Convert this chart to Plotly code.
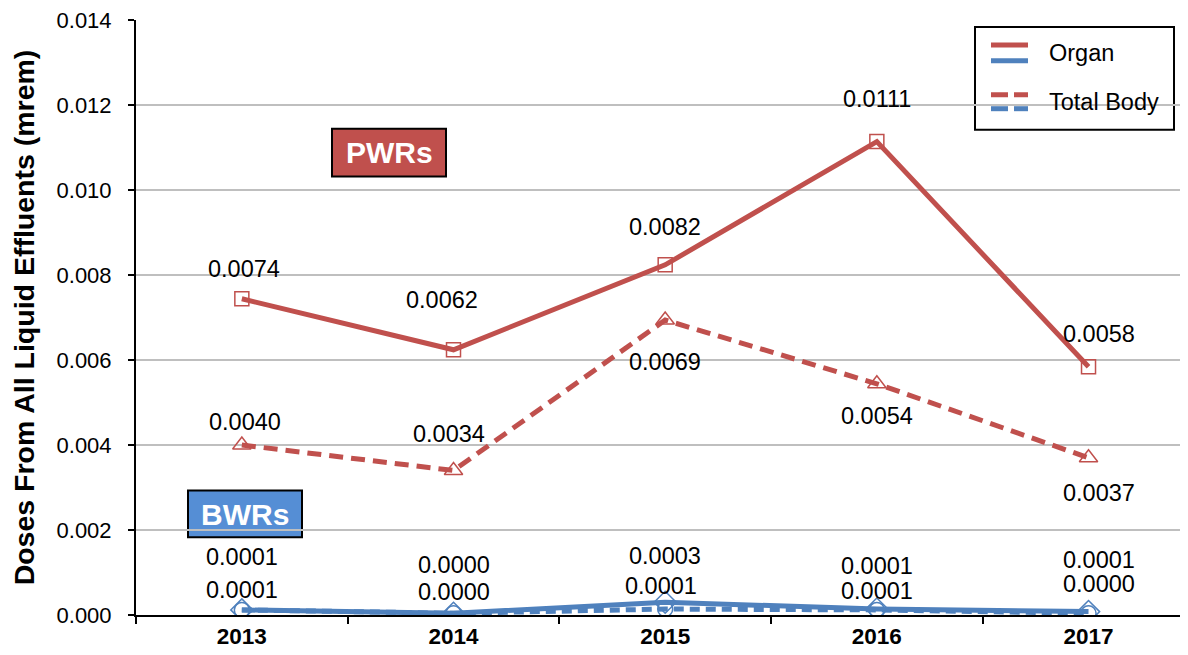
import plotly.graph_objects as go

years = ["2013", "2014", "2015", "2016", "2017"]
pwr_organ = [0.00744, 0.00624, 0.00824, 0.01114, 0.00584]
pwr_total = [0.0040, 0.0034, 0.00694, 0.00544, 0.0037]
bwr_organ = [0.00012, 0.00004, 0.00030, 0.00014, 0.00008]
bwr_total = [0.00012, 0.00004, 0.00014, 0.00012, 0.00004]
y_ticks = [0.000, 0.002, 0.004, 0.006, 0.008, 0.010, 0.012, 0.014]

# label offsets (pixels) for the data labels
pwr_organ_shift = [(2, 30), (-12, 50), (0, 38), (0, 43), (10, 33)]
pwr_total_shift = [(3, 23), (-5, 37), (0, -42), (0, -32), (10, -35)]
bwr_organ_shift = [(0, 53), (0, 48), (0, 46), (0, 43), (10, 52)]
bwr_total_shift = [(0, 20), (0, 21), (-4, 23), (0, 19), (10, 29)]

RED = "#C0504D"
BLUE = "#4F81BD"
BLUE_BOX = "#558ED5"
FONT = "Liberation Sans, Arial, sans-serif"

# page body has an 8px margin: figure is placed at (8, 8) in the window
OFF = 8
W, H = 1188 - OFF, 655 - OFF
L, R, T, B = 136 - OFF, 0, 18 - OFF, 40
PW, PH = W - L - R, H - T - B


def px(x):  # window pixel -> paper
    return (x - OFF - L) / PW


def py(y):  # window pixel -> paper
    return (H - B - (y - OFF)) / PH


fig = go.Figure()

fig.add_trace(go.Scatter(x=years, y=pwr_organ, mode="lines+markers",
                         line=dict(color=RED, width=5),
                         marker=dict(symbol="square-open", size=14, color=RED, line=dict(width=1.5, color=RED)),
                         showlegend=False))
fig.add_trace(go.Scatter(x=years, y=pwr_total, mode="lines+markers",
                         line=dict(color=RED, width=5, dash="14px,8px"),
                         marker=dict(symbol="triangle-up-open", size=16, color=RED, line=dict(width=1.5, color=RED)),
                         showlegend=False))
fig.add_trace(go.Scatter(x=years, y=bwr_total, mode="lines+markers",
                         line=dict(color=BLUE, width=5, dash="10px,6px"),
                         marker=dict(symbol="circle-open", size=15, color=BLUE, line=dict(width=1.5, color=BLUE)),
                         showlegend=False))
fig.add_trace(go.Scatter(x=years, y=bwr_organ, mode="lines+markers",
                         line=dict(color=BLUE, width=5),
                         marker=dict(symbol="diamond-open", size=17, color=BLUE, line=dict(width=1.5, color=BLUE)),
                         showlegend=False))

annotations = []
for vals, shifts in [(pwr_organ, pwr_organ_shift), (pwr_total, pwr_total_shift),
                     (bwr_organ, bwr_organ_shift), (bwr_total, bwr_total_shift)]:
    for i, (v, (dx, dy)) in enumerate(zip(vals, shifts)):
        annotations.append(dict(x=i, y=v, xref="x", yref="y", text=f"{v:.4f}",
                                showarrow=False, xshift=dx, yshift=dy,
                                xanchor="center", yanchor="middle",
                                font=dict(family=FONT, size=23.5, color="black")))

# PWRs / BWRs boxes
annotations.append(dict(x=px(389), y=py(151), xref="paper", yref="paper", text="<b>PWRs</b>",
                        xanchor="center", yanchor="middle",
                        showarrow=False, font=dict(family=FONT, size=30, color="white")))
annotations.append(dict(x=px(245), y=py(514), xref="paper", yref="paper", text="<b>BWRs</b>",
                        xanchor="center", yanchor="middle",
                        showarrow=False, font=dict(family=FONT, size=30, color="white")))

# legend text
annotations.append(dict(x=px(1047), y=py(51), xref="paper", yref="paper", text="Organ",
                        xanchor="left", yanchor="middle",
                        showarrow=False, font=dict(family=FONT, size=23.5, color="black")))
annotations.append(dict(x=px(1047), y=py(100), xref="paper", yref="paper", text="Total Body",
                        xanchor="left", yanchor="middle",
                        showarrow=False, font=dict(family=FONT, size=23.5, color="black")))

shapes = [
    dict(type="rect", xref="paper", yref="paper", x0=px(332), x1=px(446), y0=py(175), y1=py(127),
         fillcolor=RED, line=dict(color="black", width=2), layer="below"),
    dict(type="rect", xref="paper", yref="paper", x0=px(188), x1=px(302), y0=py(537), y1=py(490),
         fillcolor=BLUE_BOX, line=dict(color="black", width=2), layer="below"),
    # legend box
    dict(type="rect", xref="paper", yref="paper", x0=px(975), x1=px(1174), y0=py(128), y1=py(25),
         fillcolor="white", line=dict(color="black", width=2), layer="below"),
    dict(type="line", xref="paper", yref="paper", x0=px(991), x1=px(1028), y0=py(43), y1=py(43),
         line=dict(color=RED, width=5)),
    dict(type="line", xref="paper", yref="paper", x0=px(991), x1=px(1028), y0=py(59), y1=py(59),
         line=dict(color=BLUE, width=5)),
    dict(type="line", xref="paper", yref="paper", x0=px(991), x1=px(1008), y0=py(93), y1=py(93),
         line=dict(color=RED, width=5)),
    dict(type="line", xref="paper", yref="paper", x0=px(1014), x1=px(1028), y0=py(93), y1=py(93),
         line=dict(color=RED, width=5)),
    dict(type="line", xref="paper", yref="paper", x0=px(991), x1=px(1008), y0=py(107), y1=py(107),
         line=dict(color=BLUE, width=5)),
    dict(type="line", xref="paper", yref="paper", x0=px(1014), x1=px(1028), y0=py(107), y1=py(107),
         line=dict(color=BLUE, width=5)),
]

fig.update_layout(
    width=W, height=H,
    margin=dict(l=L, r=R, t=T, b=B, pad=0),
    paper_bgcolor="white", plot_bgcolor="white",
    font=dict(family=FONT, size=22, color="black"),
    annotations=annotations, shapes=shapes,
    showlegend=False,
    xaxis=dict(type="category", range=[-0.5, 4.47], tickson="boundaries",
               showline=True, linecolor="black", linewidth=2,
               ticks="outside", ticklen=7, tickwidth=2, tickcolor="black",
               showgrid=False, tickfont=dict(family=FONT, size=22.5, color="black"),
               tickprefix="<b>", ticksuffix="</b>", fixedrange=True),
    yaxis=dict(range=[0, 0.014], tickmode="array", tickvals=y_ticks,
               ticktext=[f"{t:.3f}" for t in y_ticks],
               ticklabeloverflow="allow",
               showline=True, linecolor="black", linewidth=2,
               ticks="outside", ticklen=6, tickwidth=2, tickcolor="black",
               ticklabelstandoff=12,
               showgrid=True, gridcolor="#BFBFBF", gridwidth=1.5, zeroline=False,
               tickfont=dict(family=FONT, size=22, color="black"),
               title=dict(text="<b>Doses From All Liquid Effluents (mrem)</b>",
                          font=dict(family=FONT, size=28.5, color="black"), standoff=16)),
)

fig.write_html("out.html")
